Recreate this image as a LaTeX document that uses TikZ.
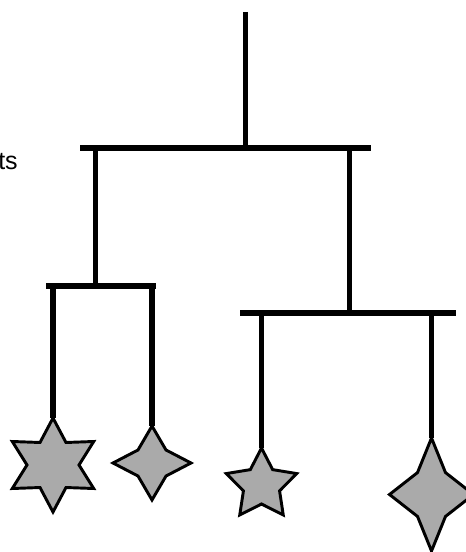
\documentclass[tikz,border=0pt]{standalone}
\usepackage{fontspec}
\setmainfont{Liberation Sans}
\definecolor{stargray}{HTML}{AAAAAA}
\tikzset{
  rod/.style={line width=4.1pt, line cap=butt, black},
  ornament/.style={line width=2.2pt, line join=miter, draw=black, fill=stargray},
  tstext/.style={anchor=base east, inner sep=0pt, font=\fontsize{18.75pt}{22pt}\selectfont}
}
% #1 cx, #2 cy, #3 points, #4 Rx, #5 Ry, #6 rx, #7 ry
\newcommand{\ornamentpath}[7]{%
  \draw[ornament] plot[samples at={0,...,\numexpr 2*#3-1\relax}]
    ({#1 + (mod(\x,2)==0 ? #4 : #6)*cos(90+180/#3*\x)},
     {#2 - (mod(\x,2)==0 ? #5 : #7)*sin(90+180/#3*\x)}) -- cycle;}
\begin{document}
\begin{tikzpicture}[x=0.75pt,y=-0.75pt]
\useasboundingbox (0,0) rectangle (466,552);
\clip (0,0) rectangle (466,552);
% top hanger
\coordinate (top) at (245.5,12);
\coordinate (hub) at (245.5,148);
\coordinate (b1l) at (80,148);
\coordinate (b1r) at (371,148);
\coordinate (b1a) at (95.5,148);
\coordinate (b1b) at (349.5,148);
% left sub bar
\coordinate (b2a) at (95.5,286);
\coordinate (b2l) at (46,286);
\coordinate (b2r) at (156,286);
\coordinate (h1) at (53,286);
\coordinate (h2) at (152,286);
% right sub bar
\coordinate (b3a) at (349.5,313);
\coordinate (b3l) at (240,313);
\coordinate (b3r) at (456,313);
\coordinate (h3) at (261.5,313);
\coordinate (h4) at (431.5,313);
% ornament tops
\coordinate (s1) at (53,418);
\coordinate (s2) at (152,426);
\coordinate (s3) at (261.5,448);
\coordinate (s4) at (431.5,438);

\draw[rod] (top) -- (hub);
\draw[rod] (b1l) -- (b1r);
\draw[rod] (b1a) -- (b2a);
\draw[rod] (b1b) -- (b3a);
\draw[rod] (b2l) -- (b2r);
\draw[rod] (b3l) -- (b3r);
\draw[rod] (h1) -- (s1);
\draw[rod] (h2) -- (s2);
\draw[rod] (h3) -- (s3);
\draw[rod] (h4) -- (s4);

\ornamentpath{53}{465}{6}{47}{47}{26}{26}
\ornamentpath{152}{463}{4}{39}{37}{19.8}{18.4}
\ornamentpath{261.5}{485}{5}{37}{37}{19}{19}
\ornamentpath{431.5}{494.5}{4}{42}{56.5}{19.8}{31}

\node[tstext] (txt) at (18,170) {ts};
\end{tikzpicture}
\end{document}
